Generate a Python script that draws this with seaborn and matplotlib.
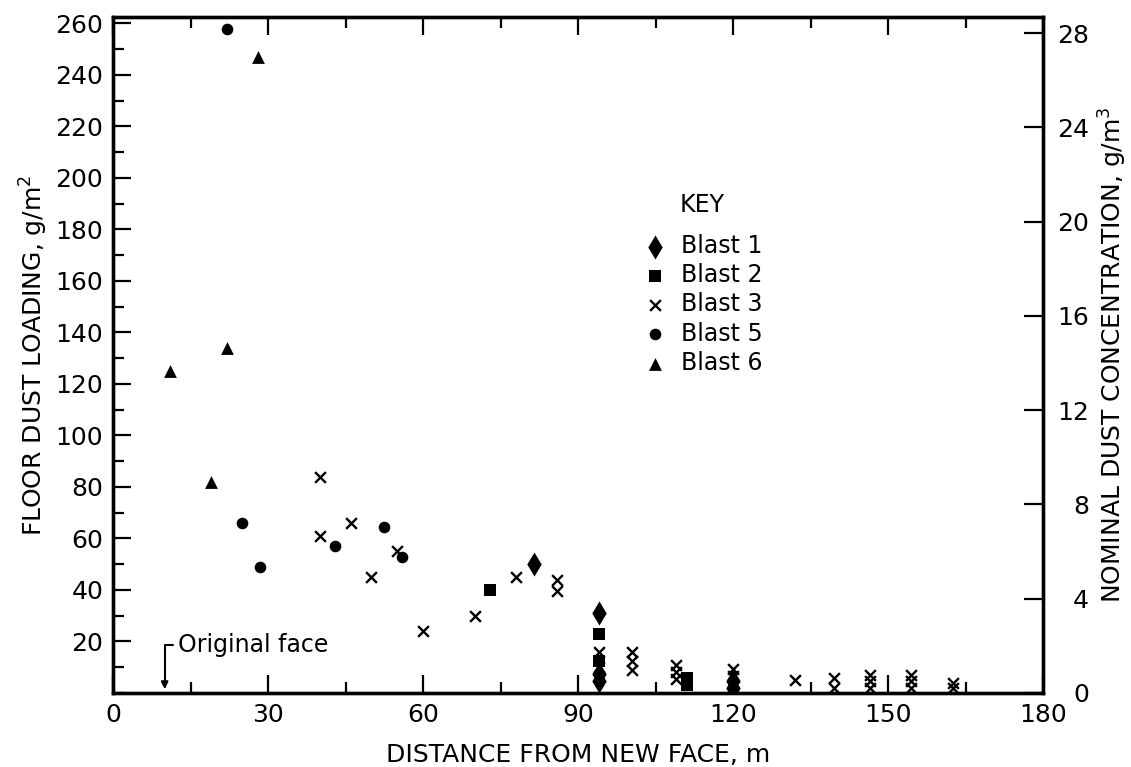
import matplotlib
matplotlib.use("Agg")
import matplotlib.pyplot as plt
import seaborn as sns
import numpy as np
from matplotlib.ticker import MultipleLocator, FixedLocator

sns.set_theme(style="white")
plt.rcParams['font.family'] = ['DejaVu Sans']
plt.rcParams['text.color'] = 'black'
plt.rcParams['axes.labelcolor'] = 'black'
plt.rcParams['xtick.color'] = 'black'
plt.rcParams['ytick.color'] = 'black'

# ---- data (distance m, floor dust loading g/m^2) ----
blast1_x = [81.5, 94, 94, 94, 120, 120]
blast1_y = [50, 31, 7.5, 4.5, 4.5, 2]

blast2_x = [73, 94, 94, 111, 111]
blast2_y = [40, 23, 12.5, 6, 3]

blast3_x = [40, 40, 46, 50, 55, 60, 70, 78, 86, 86, 94, 94,
            100.5, 100.5, 100.5, 109, 109, 109, 120, 120, 120,
            132, 139.5, 139.5, 146.5, 146.5, 146.5, 154.5, 154.5, 154.5,
            162.5, 162.5]
blast3_y = [84, 61, 66, 45, 55, 24, 30, 45, 44, 39.5, 16, 10,
            16, 12.5, 9, 11, 8, 5.5, 9.5, 6.5, 3.5,
            5, 6, 2, 7, 4.5, 2, 7, 4.5, 2,
            4, 2]

blast5_x = [22, 25, 28.5, 43, 52.5, 56]
blast5_y = [258, 66, 49, 57, 64.5, 53]

blast6_x = [11, 19, 22, 28]
blast6_y = [125, 82, 134, 247]

series_labels = ["Blast 1", "Blast 2", "Blast 3", "Blast 5", "Blast 6"]
x_ticks = [0, 30, 60, 90, 120, 150, 180]
y_ticks_left = [20, 40, 60, 80, 100, 120, 140, 160, 180, 200, 220, 240, 260]
y_ticks_right = [0, 4, 8, 12, 16, 20, 24, 28]

W, H = 1131, 767
fig = plt.figure(figsize=(W / 100, H / 100), dpi=100)
ax = fig.add_axes([113 / W, 1 - 693 / H, (1043 - 113) / W, (693 - 17) / H])

series = [
    (blast1_x, blast1_y, "d", 150, 0),
    (blast2_x, blast2_y, "s", 65, 0),
    (blast3_x, blast3_y, "x", 60, 1.7),
    (blast5_x, blast5_y, "o", 70, 0),
    (blast6_x, blast6_y, "^", 85, 0),
]
for (xs, ys, mk, sz, lw), lab in zip(series, series_labels):
    if mk == "x":
        sns.scatterplot(x=xs, y=ys, marker=mk, s=sz, color="black",
                        linewidth=lw, ax=ax, label=lab, zorder=3)
    else:
        sns.scatterplot(x=xs, y=ys, marker=mk, s=sz, color="black",
                        edgecolor="black", linewidth=0, ax=ax, label=lab, zorder=3)

ax.set_xlim(0, 180)
ax.set_ylim(0, 262.5)

ax.xaxis.set_major_locator(FixedLocator(x_ticks))
ax.xaxis.set_minor_locator(MultipleLocator(15))
ax.yaxis.set_major_locator(FixedLocator(y_ticks_left))
ax.yaxis.set_minor_locator(MultipleLocator(10))

for sp in ax.spines.values():
    sp.set_linewidth(2.4)
    sp.set_color("black")

ax.tick_params(axis="both", which="major", direction="in", length=13, width=1.6,
               labelsize=18, colors="black", pad=7)
ax.tick_params(axis="both", which="minor", direction="in", length=8, width=1.6)
ax.tick_params(axis="x", which="both", top=True, bottom=True)
ax.tick_params(axis="y", which="both", left=True, right=False)

ax.set_xlabel("DISTANCE FROM NEW FACE, m", fontsize=18, labelpad=12)
ax.set_ylabel("FLOOR DUST LOADING, g/m$^2$", fontsize=18, labelpad=4)

# right axis: nominal dust concentration
ax2 = ax.twinx()
ax2.set_ylim(0, 262.5 / 9.15)
ax2.yaxis.set_major_locator(FixedLocator(y_ticks_right))
ax2.tick_params(axis="y", which="major", direction="in", length=14, width=1.6,
                labelsize=18, colors="black", pad=33)
ax2.tick_params(axis="y", which="minor", right=False)
for lbl in ax2.get_yticklabels():
    lbl.set_horizontalalignment("right")
for sp in ax2.spines.values():
    sp.set_linewidth(2.4)
    sp.set_color("black")
ax2.set_ylabel("NOMINAL DUST CONCENTRATION, g/m$^3$", fontsize=18, labelpad=6)
ax2.grid(False)
ax.grid(False)

# annotation: original face
ax.annotate("Original face", xy=(10, 1.5), xytext=(12.6, 18.6),
            fontsize=17, ha="left", va="center",
            arrowprops=dict(arrowstyle="-|>", color="black", lw=1.5,
                            connectionstyle="angle,angleA=180,angleB=90,rad=0",
                            shrinkA=1, shrinkB=0, mutation_scale=10))

# legend (title drawn separately so it aligns with the labels)
leg = ax.legend(loc="upper left",
                bbox_to_anchor=(643 / W, 1 - 234 / H), bbox_transform=fig.transFigure,
                frameon=False, fontsize=17,
                handletextpad=0.6, labelspacing=0.22, markerscale=1.0,
                handlelength=1.0, borderaxespad=0, borderpad=0)
for t in leg.get_texts():
    t.set_color("black")
fig.text(680 / W, 1 - 205 / H, "KEY", fontsize=17, ha="left", va="center")

fig.savefig("out.png", dpi=100, facecolor="white")
